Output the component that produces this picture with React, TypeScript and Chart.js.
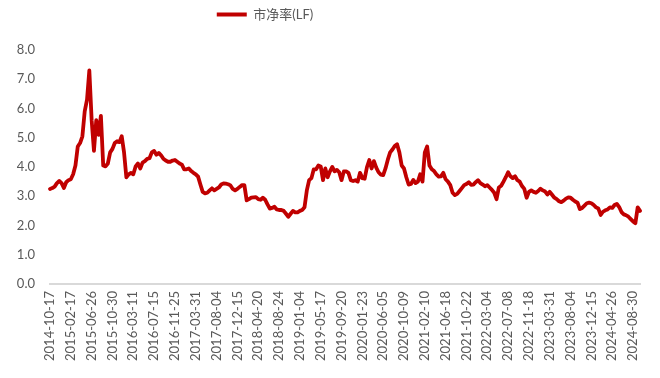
import React, { useEffect, useRef } from 'react';
import { Chart, registerables } from 'chart.js';

Chart.register(...registerables);

// Axis labels, one every 9 fortnightly observations
const tickLabels: string[] = [
  '2014-10-17', '2015-02-17', '2015-06-26', '2015-10-30', '2016-03-11',
  '2016-07-15', '2016-11-25', '2017-03-31', '2017-08-04', '2017-12-15',
  '2018-04-20', '2018-08-24', '2019-01-04', '2019-05-17', '2019-09-20',
  '2020-01-23', '2020-06-05', '2020-10-09', '2021-02-10', '2021-06-18',
  '2021-10-22', '2022-03-04', '2022-07-08', '2022-11-18', '2023-03-31',
  '2023-08-04', '2023-12-15', '2024-04-26', '2024-08-30',
];

const POINTS_PER_TICK = 9;

// 市净率(LF), fortnightly from 2014-10-17
const pbValues: number[] = [
  3.25, 3.28, 3.33, 3.45, 3.52, 3.45, 3.28, 3.48, 3.55, 3.58,
  3.75, 4.05, 4.7, 4.82, 5.05, 5.9, 6.3, 7.3, 5.6, 4.55,
  5.6, 5.1, 5.75, 4.05, 4.02, 4.12, 4.5, 4.62, 4.82, 4.88,
  4.85, 5.05, 4.5, 3.65, 3.75, 3.8, 3.75, 4.02, 4.12, 3.95,
  4.15, 4.2, 4.28, 4.3, 4.5, 4.55, 4.42, 4.48, 4.4, 4.28,
  4.22, 4.18, 4.18, 4.22, 4.24, 4.18, 4.12, 4.08, 3.92, 3.92,
  3.95, 3.86, 3.8, 3.75, 3.67, 3.4, 3.15, 3.1, 3.12, 3.2,
  3.27, 3.2, 3.25, 3.3, 3.4, 3.44, 3.43, 3.41, 3.37, 3.25,
  3.2, 3.25, 3.32, 3.38, 3.38, 2.86, 2.9, 2.95, 2.96, 2.97,
  2.9, 2.88, 2.95, 2.88, 2.72, 2.58, 2.6, 2.64, 2.55, 2.53,
  2.53, 2.5, 2.4, 2.3, 2.4, 2.5, 2.45, 2.45, 2.5, 2.53,
  2.62, 3.2, 3.55, 3.62, 3.92, 3.92, 4.05, 4.02, 3.55, 3.95,
  3.65, 3.85, 4.0, 3.85, 3.9, 3.82, 3.55, 3.85, 3.85, 3.8,
  3.55, 3.52, 3.55, 3.5, 3.8, 3.62, 3.6, 4.0, 4.24, 3.95,
  4.2, 3.98, 3.82, 3.74, 3.72, 3.95, 4.25, 4.5, 4.6, 4.72,
  4.78, 4.5, 4.05, 3.95, 3.65, 3.4, 3.42, 3.56, 3.45, 3.5,
  3.75, 3.5, 4.5, 4.7, 4.05, 3.92, 3.86, 3.75, 3.67, 3.68,
  3.8, 3.58, 3.5, 3.38, 3.12, 3.04, 3.08, 3.18, 3.28, 3.38,
  3.42, 3.48, 3.39, 3.4, 3.48, 3.55, 3.45, 3.4, 3.34, 3.38,
  3.3, 3.22, 3.12, 2.9, 3.3, 3.36, 3.5, 3.65, 3.82, 3.68,
  3.62, 3.68, 3.55, 3.5, 3.35, 3.25, 2.95, 3.15, 3.2, 3.15,
  3.12, 3.18, 3.26, 3.2, 3.16, 3.06, 3.15, 3.05, 2.95, 2.9,
  2.83, 2.8, 2.85, 2.92, 2.96, 2.95, 2.88, 2.82, 2.78, 2.56,
  2.6, 2.68, 2.76, 2.78, 2.76, 2.7, 2.62, 2.58, 2.36, 2.47,
  2.52, 2.55, 2.62, 2.6, 2.7, 2.74, 2.63, 2.46, 2.38, 2.35,
  2.3, 2.22, 2.14, 2.08, 2.62, 2.5,
];

const categories: string[] = pbValues.map((_, i) =>
  i % POINTS_PER_TICK === 0 ? tickLabels[i / POINTS_PER_TICK] ?? '' : ''
);

const LINE_COLOR = '#C00000';
const TEXT_COLOR = '#595959';
const FONT_FAMILY = 'Lato, "Noto Sans CJK SC", sans-serif';

// Keeps the legend item at the very top, left of centre
const legendPlacement = {
  id: 'legendPlacement',
  beforeDraw(chart: any) {
    const lg = chart.legend;
    if (lg) {
      const h = lg.bottom - lg.top;
      lg.top = 0;
      lg.bottom = h;
      lg.left = 0;
      lg.right = 530;
    }
  },
};

export default function App() {
  const canvasRef = useRef<HTMLCanvasElement | null>(null);

  useEffect(() => {
    const canvas = canvasRef.current;
    if (!canvas) return;
    const chart = new Chart(canvas, {
      type: 'line',
      data: {
        labels: categories,
        datasets: [
          {
            label: '市净率(LF)',
            data: pbValues,
            borderColor: LINE_COLOR,
            backgroundColor: LINE_COLOR,
            borderWidth: 3.8,
            pointRadius: 0,
            pointHoverRadius: 0,
            tension: 0,
            borderJoinStyle: 'round',
            borderCapStyle: 'round',
          },
        ],
      },
      options: {
        responsive: false,
        animation: false,
        layout: { padding: 0 },
        plugins: {
          tooltip: { enabled: false },
          legend: {
            display: true,
            position: 'top',
            align: 'center',
            labels: {
              boxWidth: 30,
              boxHeight: 4,
              padding: 8,
              color: TEXT_COLOR,
              font: { family: FONT_FAMILY, size: 13 },
              generateLabels: (c: any) =>
                c.data.datasets.map((ds: any, i: number) => ({
                  text: ds.label,
                  fillStyle: LINE_COLOR,
                  strokeStyle: LINE_COLOR,
                  lineWidth: 0,
                  hidden: false,
                  datasetIndex: i,
                  fontColor: TEXT_COLOR,
                })),
            },
          },
        },
        scales: {
          x: {
            type: 'category',
            offset: false,
            grid: { display: false, drawTicks: false },
            border: { display: true, color: '#D9D9D9', width: 2 },
            ticks: {
              autoSkip: false,
              maxRotation: 90,
              minRotation: 90,
              padding: 7,
              color: TEXT_COLOR,
              font: { family: FONT_FAMILY, size: 13 },
            },
            afterFit: (scale: any) => {
              scale.height = 94;
              scale.paddingRight = 20;
            },
          },
          y: {
            min: 0,
            max: 8,
            grid: { display: false, drawTicks: false },
            border: { display: false },
            ticks: {
              stepSize: 1,
              padding: 15,
              color: TEXT_COLOR,
              font: { family: FONT_FAMILY, size: 13 },
              callback: (v: any) => Number(v).toFixed(1),
            },
            afterFit: (scale: any) => {
              scale.width = 50;
              scale.paddingTop = 50;
            },
          },
        },
      },
      plugins: [legendPlacement],
    });
    return () => chart.destroy();
  }, []);

  return (
    <div style={{ position: 'fixed', left: 0, top: 0, width: 660, height: 378, background: '#fff' }}>
      <canvas ref={canvasRef} width={660} height={378} style={{ display: 'block', width: 660, height: 378 }} />
    </div>
  );
}
